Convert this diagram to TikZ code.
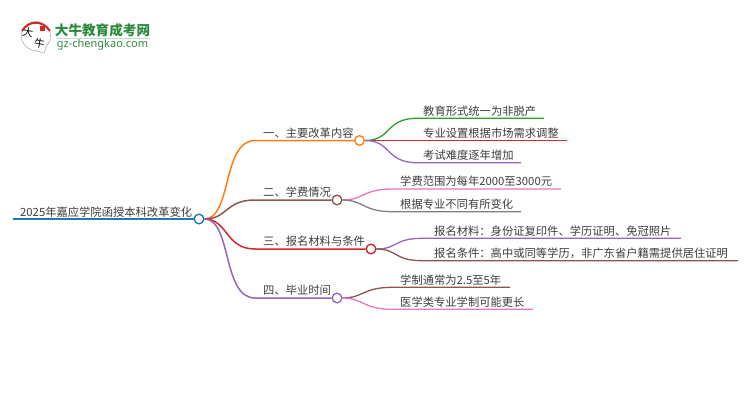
\documentclass[tikz,border=0pt]{standalone}
\usepackage{fontspec}
\setmainfont{Noto Sans CJK SC}
\setsansfont{Noto Sans}
\definecolor{mapblue}{HTML}{1F77B4}
\definecolor{maporange}{HTML}{FF7F0E}
\definecolor{mapbrown}{HTML}{8C564B}
\definecolor{mapred}{HTML}{D62728}
\definecolor{mappurple}{HTML}{9467BD}
\definecolor{mapgreen}{HTML}{2CA02C}
\definecolor{mappink}{HTML}{E377C2}
\definecolor{mapgray}{HTML}{7F7F7F}
\definecolor{maptext}{HTML}{3C3C3C}
\definecolor{logogreen}{HTML}{2B8A3E}

\begin{document}
\begin{tikzpicture}[x=1pt, y=-1pt]
    \tikzstyle{hub}=[
        draw = black,
        line width = 1.2pt,
        fill = white,
        minimum size = 9.5pt,
        inner sep = 0pt,
        circle
    ]
    \tikzstyle{label text}=[
        anchor = south west,
        inner sep = 0pt,
        text = maptext,
        font = \fontsize{11.3pt}{12pt}\selectfont
    ]
    \tikzstyle{stem}=[line width = 1.5pt]
    \tikzstyle{twig}=[line width = 1.3pt]

    \useasboundingbox (0, 0) rectangle (750, 410);

    % logo
    \node[circle, draw=black!25, fill=white, line width=.8pt, minimum size=29pt, inner sep=0pt] (badge) at (36, 36) {};
    \draw[black!25, line width=.8pt, fill=white] (badge.south) -- (44, 53) -- (badge.-45);
    \draw[mapred, line width=2pt] (badge.160) .. controls (29, 20) and (42, 20) .. (badge.20);
    \node[fill=mapred, minimum size=5pt, inner sep=0pt] (seal) at (42, 28) {};
    \node[inner sep=0pt, font=\fontsize{10.5pt}{11pt}\selectfont, rotate=-10] (da) at (28, 32) {大};
    \node[inner sep=0pt, font=\fontsize{10.5pt}{11pt}\selectfont, rotate=-10] (niu) at (39.5, 43) {牛};
    \node[inner sep=0pt, text=logogreen, font=\fontsize{13.6pt}{14pt}\selectfont\bfseries] (logotitle) at (102.5, 30) {大牛教育成考网};
    \node[inner sep=0pt, text=logogreen, font=\sffamily\fontsize{11pt}{12pt}\selectfont] (logourl) at (102.5, 45) {gz-chengkao.com};
    \draw[logogreen!30, line width=.8pt] (logourl.north west) ++(0, -1) -- ++(93, 0);

    % hubs
    \node[hub, draw=mapblue]   (root) at (199, 219)   {};
    \node[hub, draw=maporange] (hubA) at (359.5, 140.5) {};
    \node[hub, draw=mapbrown]  (hubB) at (337, 200)   {};
    \node[hub, draw=mapred]    (hubC) at (371, 249)   {};
    \node[hub, draw=mappurple] (hubD) at (337, 298)   {};

    % line starts and ends
    \coordinate (rootstart) at (13, 219);
    \coordinate (a) at (255, 140.5);
    \coordinate (b) at (255, 200);
    \coordinate (c) at (255, 249);
    \coordinate (d) at (255, 298);
    \coordinate (a1) at (417, 118.3);
    \coordinate (a2) at (417, 140.5);
    \coordinate (a3) at (417, 162.7);
    \coordinate (b1) at (393, 189);
    \coordinate (b2) at (393, 211.7);
    \coordinate (c1) at (423, 238.3);
    \coordinate (c2) at (423, 260.7);
    \coordinate (d1) at (393, 287.3);
    \coordinate (d2) at (393, 309.3);
    \coordinate (a1end) at (544, 118.3);
    \coordinate (a2end) at (567, 140.5);
    \coordinate (a3end) at (521, 162.7);
    \coordinate (b1end) at (561, 189);
    \coordinate (b2end) at (521, 211.7);
    \coordinate (c1end) at (681, 238.3);
    \coordinate (c2end) at (738, 260.7);
    \coordinate (d1end) at (510, 287.3);
    \coordinate (d2end) at (533, 309.3);

    % connectors
    \draw[mapblue, line width=2pt] (rootstart) -- (root);
    \draw[stem, maporange] (root.east) .. controls (232, 219) and (222, 140.5) .. (a) -- (hubA);
    \draw[stem, mapbrown]  (root.east) .. controls (228, 219) and (225, 200) .. (b) -- (hubB);
    \draw[stem, mapred]    (root.east) .. controls (228, 219) and (225, 249) .. (c) -- (hubC);
    \draw[stem, mappurple] (root.east) .. controls (232, 219) and (222, 298) .. (d) -- (hubD);

    \draw[twig, mapgreen]  (hubA.east) .. controls (392, 140.5) and (385, 118.3) .. (a1) -- (a1end);
    \draw[twig, mapred]    (hubA.east) -- (a2) -- (a2end);
    \draw[twig, mappurple] (hubA.east) .. controls (392, 140.5) and (385, 162.7) .. (a3) -- (a3end);
    \draw[twig, mappink]   (hubB.east) .. controls (364, 200) and (362, 189) .. (b1) -- (b1end);
    \draw[twig, mapgray]   (hubB.east) .. controls (364, 200) and (362, 211.7) .. (b2) -- (b2end);
    \draw[twig, mappurple] (hubC.east) .. controls (398, 249) and (393, 238.3) .. (c1) -- (c1end);
    \draw[twig, mapbrown]  (hubC.east) .. controls (398, 249) and (393, 260.7) .. (c2) -- (c2end);
    \draw[twig, mapbrown]  (hubD.east) .. controls (364, 298) and (362, 287.3) .. (d1) -- (d1end);
    \draw[twig, mappink]   (hubD.east) .. controls (364, 298) and (362, 309.3) .. (d2) -- (d2end);

    % hubs again so the lines stay behind them
    \node[hub, draw=mapblue]   (rootcap) at (root) {};
    \node[hub, draw=maporange] (hubAcap) at (hubA) {};
    \node[hub, draw=mapbrown]  (hubBcap) at (hubB) {};
    \node[hub, draw=mapred]    (hubCcap) at (hubC) {};
    \node[hub, draw=mappurple] (hubDcap) at (hubD) {};

    % labels
    \node[label text] (roottext) at (20, 218) {2025年嘉应学院函授本科改革变化};
    \node[label text] (atext) at ([xshift=8pt, yshift=2pt]a) {一、主要改革内容};
    \node[label text] (btext) at ([xshift=8pt, yshift=2pt]b) {二、学费情况};
    \node[label text] (ctext) at ([xshift=8pt, yshift=2pt]c) {三、报名材料与条件};
    \node[label text] (dtext) at ([xshift=8pt, yshift=2pt]d) {四、毕业时间};
    \node[label text] (a1text) at ([xshift=6pt, yshift=2pt]a1) {教育形式统一为非脱产};
    \node[label text] (a2text) at ([xshift=6pt, yshift=2pt]a2) {专业设置根据市场需求调整};
    \node[label text] (a3text) at ([xshift=6pt, yshift=2pt]a3) {考试难度逐年增加};
    \node[label text] (b1text) at ([xshift=7pt, yshift=2pt]b1) {学费范围为每年2000至3000元};
    \node[label text] (b2text) at ([xshift=7pt, yshift=2pt]b2) {根据专业不同有所变化};
    \node[label text] (c1text) at ([xshift=11pt, yshift=2pt]c1) {报名材料：身份证复印件、学历证明、免冠照片};
    \node[label text] (c2text) at ([xshift=11pt, yshift=2pt]c2) {报名条件：高中或同等学历，非广东省户籍需提供居住证明};
    \node[label text] (d1text) at ([xshift=7pt, yshift=2pt]d1) {学制通常为2.5至5年};
    \node[label text] (d2text) at ([xshift=7pt, yshift=2pt]d2) {医学类专业学制可能更长};
\end{tikzpicture}
\end{document}
